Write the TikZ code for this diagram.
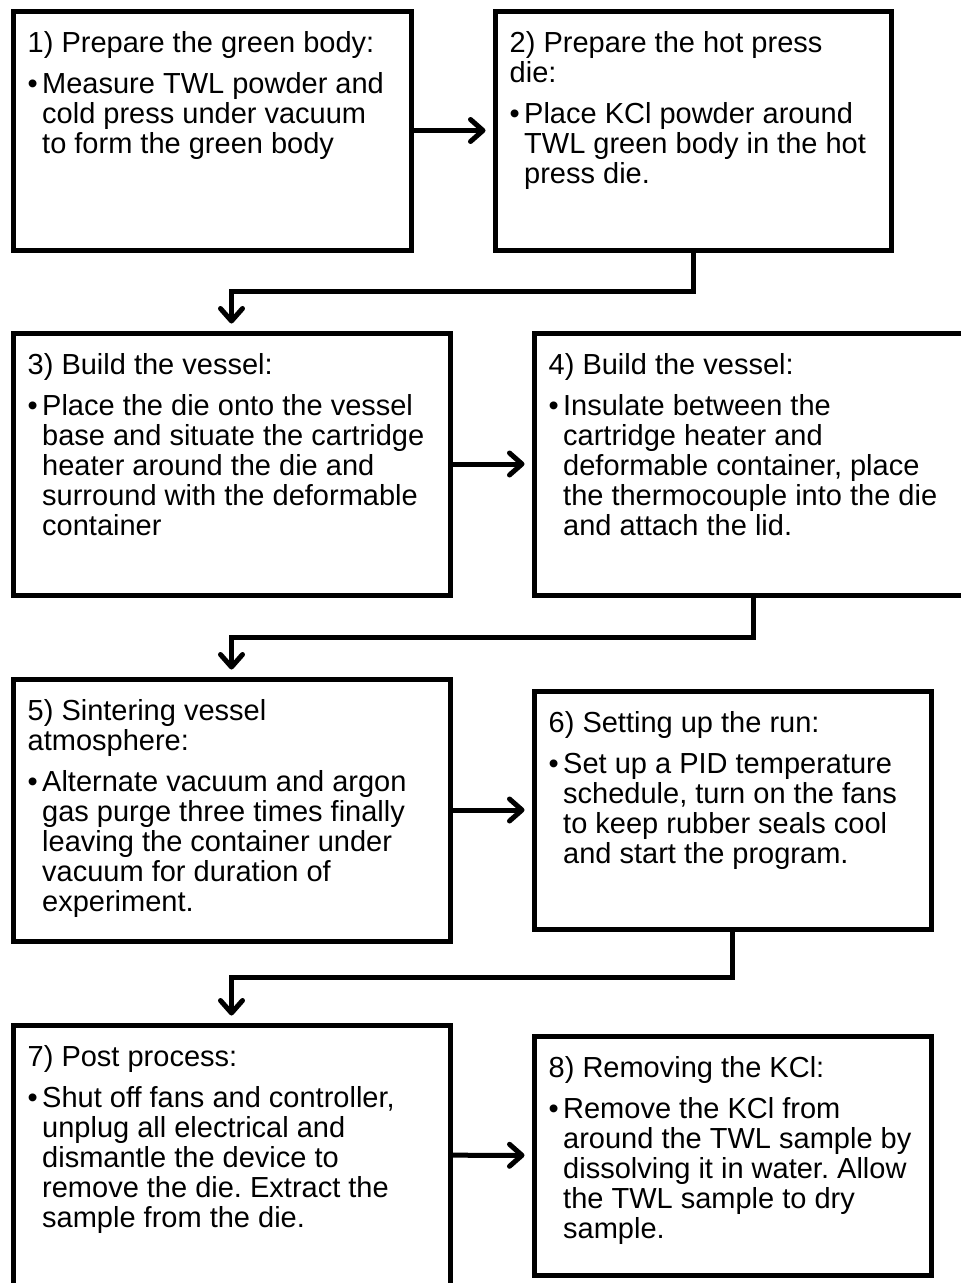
\documentclass[tikz,border=0pt]{standalone}
\usepackage{fontspec}
\setmainfont{Liberation Sans}
\usepackage{tikz}
\usetikzlibrary{arrows.meta,calc}
\frenchspacing

\newcommand{\stepbul}{\makebox[14.5pt][l]{\textbullet}}
\newcommand{\stepind}{\hspace*{14.5pt}}

\tikzset{
	stepbox/.style={draw, line width=5pt, fill=white},
	steptext/.style={anchor=north west, align=left, inner sep=0pt, xshift=17pt, yshift=-22.5pt, font=\fontsize{29}{30}\selectfont},
	flow/.style={line width=5pt, -{Straight Barb[length=12.5pt, width=22pt, round]}, shorten >=7pt}
}

\begin{document}
\begin{tikzpicture}[x=1pt, y=-1pt]
	\useasboundingbox (0,0) rectangle (961,1283);
	\node[stepbox, minimum width=398pt, minimum height=239pt] (s1) at (212,130.5) {};
	\node[stepbox, minimum width=396pt, minimum height=239pt] (s2) at (693,130.5) {};
	\node[stepbox, minimum width=437pt, minimum height=262pt] (s3) at (231.5,464) {};
	\node[stepbox, minimum width=438pt, minimum height=262pt] (s4) at (753,464) {};
	\node[stepbox, minimum width=437pt, minimum height=262pt] (s5) at (231.5,810) {};
	\node[stepbox, minimum width=397pt, minimum height=238pt] (s6) at (732.5,810) {};
	\node[stepbox, minimum width=437pt, minimum height=260pt] (s7) at (231.5,1155) {};
	\node[stepbox, minimum width=397pt, minimum height=239pt] (s8) at (732.5,1155.5) {};

	\node[steptext] (t1) at (s1.north west) {1) Prepare the green body:\\[11pt]
		\stepbul Measure TWL powder and\\ \stepind cold press under vacuum\\ \stepind to form the green body};
	\node[steptext] (t2) at (s2.north west) {2) Prepare the hot press\\die:\\[11pt]
		\stepbul Place KCl powder around\\ \stepind TWL green body in the hot\\ \stepind press die.};
	\node[steptext] (t3) at (s3.north west) {3) Build the vessel:\\[11pt]
		\stepbul Place the die onto the vessel\\ \stepind base and situate the cartridge\\ \stepind heater around the die and\\ \stepind surround with the deformable\\ \stepind container};
	\node[steptext] (t4) at (s4.north west) {4) Build the vessel:\\[11pt]
		\stepbul Insulate between the\\ \stepind cartridge heater and\\ \stepind deformable container, place\\ \stepind the thermocouple into the die\\ \stepind and attach the lid.};
	\node[steptext] (t5) at (s5.north west) {5) Sintering vessel\\atmosphere:\\[11pt]
		\stepbul Alternate vacuum and argon\\ \stepind gas purge three times finally\\ \stepind leaving the container under\\ \stepind vacuum for duration of\\ \stepind experiment.};
	\node[steptext] (t6) at (s6.north west) {6) Setting up the run:\\[11pt]
		\stepbul Set up a PID temperature\\ \stepind schedule, turn on the fans\\ \stepind to keep rubber seals cool\\ \stepind and start the program.};
	\node[steptext] (t7) at (s7.north west) {7) Post process:\\[11pt]
		\stepbul Shut off fans and controller,\\ \stepind unplug all electrical and\\ \stepind dismantle the device to\\ \stepind remove the die. Extract the\\ \stepind sample from the die.};
	\node[steptext] (t8) at (s8.north west) {8) Removing the KCl:\\[11pt]
		\stepbul Remove the KCl from\\ \stepind around the TWL sample by\\ \stepind dissolving it in water. Allow\\ \stepind the TWL sample to dry\\ \stepind sample.};

	\foreach \a/\b in {s1/s2,s3/s4,s5/s6,s7/s8}
		\draw[flow] (\a) -- (\b);
	\foreach \a/\b in {s2/s3,s4/s5,s6/s7}
		\draw[flow] (\a.south) |- ($(\a.south)!.5!(\b.north)$) -| (\b.north);
\end{tikzpicture}
\end{document}
